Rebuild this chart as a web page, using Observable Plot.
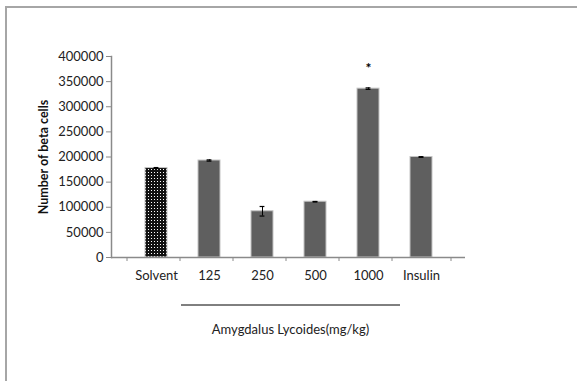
<!DOCTYPE html>
<html><head><meta charset="utf-8">
<script src="https://cdn.jsdelivr.net/npm/d3@7"></script>
<script src="https://cdn.jsdelivr.net/npm/@observablehq/plot@0.6"></script>
<style>
body{margin:0;background:#fff;}
#wrap{position:relative;width:577px;height:381px;overflow:hidden;}
#border{position:absolute;left:5px;top:6px;width:600px;height:374px;border-left:2px solid #a6a6a6;border-top:2px solid #a6a6a6;pointer-events:none;}
svg{position:absolute;left:0;top:0;}
</style></head>
<body><div id="wrap"><div id="border"></div></div>
<script>
const categories = ["Solvent","125","250","500","1000","Insulin"];
const values = [178000,193000,92000,111000,336000,200000];
const errors = [1000,1200,9500,500,1500,600];
const significant = ["1000"];
const yTicks = [0,50000,100000,150000,200000,250000,300000,350000,400000];
const yLabel = "Number of beta cells";
const xLabel = "Amygdalus Lycoides(mg/kg)";
const bracketGroup = ["125","1000"];

const data = categories.map((c,i)=>({cat:c, v:values[i], e:errors[i]}));
const W=577,H=381, mL=111, mR=112, mT=56, mB=124;
const bw=(W-mL-mR)/categories.length;
const font="Lato, 'Open Sans', sans-serif";
const axisColor="#8a8a8a";
const capInset=(bw*0.41-7)/2;

const plot = Plot.plot({
  width:W, height:H, marginLeft:mL, marginRight:mR, marginTop:mT, marginBottom:mB,
  style:{fontFamily:font, fontSize:"13px", color:"#222", background:"transparent"},
  x:{domain:categories, padding:0.59, axis:null},
  y:{domain:[0,400000], axis:null},
  marks:[
    Plot.barY(data,{x:"cat", y:"v", fill:d=>d.cat==="Solvent"?"url(#dots)":"#5f5f5f", stroke:"#c4c4c4", strokeWidth:1}),
    Plot.ruleX(data,{x:"cat", y1:d=>d.v-d.e, y2:d=>d.v+d.e, stroke:"#000", strokeWidth:1}),
    Plot.tickY(data,{x:"cat", y:d=>d.v+d.e, stroke:"#000", strokeWidth:1.2, insetLeft:capInset, insetRight:capInset}),
    Plot.tickY(data,{x:"cat", y:d=>d.v-d.e, stroke:"#000", strokeWidth:1.2, insetLeft:capInset, insetRight:capInset}),
    Plot.text(data.filter(d=>significant.includes(d.cat)),{x:"cat", y:d=>d.v+d.e, text:()=>"*", dy:-19, fontSize:14, fontWeight:"bold", fill:"#000"}),
    Plot.ruleY([0],{stroke:axisColor, strokeWidth:1.5}),
    Plot.frame({anchor:"left", stroke:axisColor, strokeWidth:1.5}),
    Plot.axisY({ticks:yTicks, tickSize:5, tickPadding:3, tickFormat:d=>String(d), stroke:axisColor, fill:"#222", label:null, fontSize:13}),
    Plot.ruleX(categories,{x:d=>d, y1:0, y2:-8000, dx:-bw/2, stroke:axisColor, strokeWidth:1}),
    Plot.ruleX([categories[categories.length-1]],{x:d=>d, y1:0, y2:-8000, dx:bw/2, stroke:axisColor, strokeWidth:1}),
    Plot.text(categories,{x:d=>d, y:0, dy:18, text:d=>d, fill:"#222", fontSize:13}),
    Plot.text([yLabel],{frameAnchor:"left", textAnchor:"middle", rotate:-90, dx:-68, text:d=>d, fontWeight:"bold", fontSize:12.5, fill:"#111"}),
    Plot.text([xLabel],{frameAnchor:"bottom", dx:2, dy:76, text:d=>d, fontSize:13, fill:"#222"})
  ]
});
const svg = d3.select(plot);
const defs = svg.insert("defs",":first-child");
const pat = defs.append("pattern").attr("id","dots").attr("patternUnits","userSpaceOnUse").attr("width",3).attr("height",3);
pat.append("rect").attr("width",3).attr("height",3).attr("fill","#111");
pat.append("rect").attr("x",1).attr("y",1).attr("width",1).attr("height",1).attr("fill","#fff");
// bracket under the dose groups
const xs = plot.scale("x"), ys = plot.scale("y");
const x1 = xs.apply(bracketGroup[0]) - 17, x2 = xs.apply(bracketGroup[1]) + xs.bandwidth + 21;
const yb = ys.apply(0) + 48;
svg.append("line").attr("x1",x1).attr("x2",x2).attr("y1",yb).attr("y2",yb).attr("stroke","#000").attr("stroke-width",1);
document.getElementById("wrap").appendChild(plot);
</script></body></html>
